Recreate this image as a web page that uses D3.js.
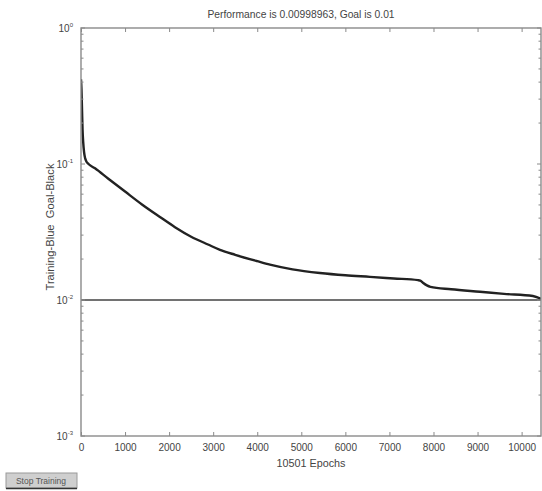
<!DOCTYPE html>
<html>
<head>
<meta charset="utf-8">
<script src="https://cdn.jsdelivr.net/npm/d3@7"></script>
<style>
  html, body { margin: 0; padding: 0; background: #fff; }
  svg { display: block; font-family: "Liberation Sans", Arial, sans-serif; }
  .pre { white-space: pre; }
</style>
</head>
<body>
<svg id="chart" width="542" height="491"></svg>
<script>
// ---- data ----
const titleText = "Performance is 0.00998963, Goal is 0.01";
const xLabelText = "10501 Epochs";
const yLabelText = "Training-Blue  Goal-Black";
const xTicks = [0, 1000, 2000, 3000, 4000, 5000, 6000, 7000, 8000, 9000, 10000];
const yTickExps = [0, -1, -2, -3];
const goal = 0.01;
const epochs = [0, 10, 22, 35, 50, 70, 95, 125, 170, 318, 613, 1000, 1384, 1800, 2133, 2500, 2882, 3154, 3500, 4000, 4289, 4800, 5423, 6000, 6558, 7100, 7647, 7700, 7760, 7850, 7930, 8400, 9054, 9600, 10256, 10501];
const perf   = [0.42, 0.36, 0.26, 0.18, 0.145, 0.122, 0.110, 0.104, 0.100, 0.0929, 0.0783, 0.0627, 0.0504, 0.0406, 0.0343, 0.0292, 0.0256, 0.0234, 0.0215, 0.0193, 0.0182, 0.0168, 0.0158, 0.0152, 0.0148, 0.0144, 0.0140, 0.0139, 0.0134, 0.0128, 0.0125, 0.0120, 0.0115, 0.0111, 0.0107, 0.00999];

// ---- layout ----
const svg = d3.select("#chart");
const L = 81, R = 541, T = 28, B = 436;
const axisColor = "#8a8a8a";
const textColor = "#444";

const x = d3.scaleLinear().domain([0, 10440]).range([L, R]);
const y = d3.scaleLog().domain([1e-3, 1]).range([B, T]);

svg.append("defs").append("clipPath").attr("id", "clip")
  .append("rect").attr("x", L).attr("y", T).attr("width", R - L).attr("height", B - T);

// title
svg.append("text").attr("x", 301).attr("y", 18).attr("text-anchor", "middle")
  .attr("font-size", 10.3).attr("fill", textColor).text(titleText);

// goal line
svg.append("line").attr("clip-path", "url(#clip)")
  .attr("x1", L).attr("x2", R).attr("y1", y(goal)).attr("y2", y(goal))
  .attr("stroke", "#727272").attr("stroke-width", 2.2);

// performance curve
const line = d3.line().x((d, i) => x(epochs[i])).y(d => y(d)).curve(d3.curveMonotoneX);
svg.append("path").datum(perf).attr("clip-path", "url(#clip)")
  .attr("d", line).attr("fill", "none").attr("stroke", "#222").attr("stroke-width", 2.4)
  .attr("stroke-linejoin", "round");

// box
svg.append("rect").attr("x", L).attr("y", T).attr("width", R - L).attr("height", B - T)
  .attr("fill", "none").attr("stroke", axisColor).attr("stroke-width", 1.4);

// x axes (ticks inward)
const xb = svg.append("g").attr("transform", `translate(0,${B})`)
  .call(d3.axisBottom(x).tickValues(xTicks).tickSize(-4).tickPadding(8).tickFormat(d3.format("d")));
const xt = svg.append("g").attr("transform", `translate(0,${T})`)
  .call(d3.axisTop(x).tickValues(xTicks).tickSize(-4).tickFormat(""));
[xb, xt].forEach(g => {
  g.select(".domain").remove();
  g.selectAll("line").attr("stroke", axisColor).attr("stroke-width", 1);
  g.selectAll("text").attr("font-size", 10).attr("fill", textColor)
    .attr("font-family", "Liberation Sans, Arial, sans-serif");
});

// y axes: major + minor ticks
const minor = [];
for (let e = -3; e < 0; e++) for (let m = 2; m <= 9; m++) minor.push(m * Math.pow(10, e));
const majors = yTickExps.map(e => Math.pow(10, e));
[[L, 1], [R, -1]].forEach(([xx, dir]) => {
  const g = svg.append("g");
  g.selectAll("line.maj").data(majors).join("line")
    .attr("x1", xx).attr("x2", xx + dir * 4).attr("y1", d => y(d)).attr("y2", d => y(d))
    .attr("stroke", axisColor);
  g.selectAll("line.min").data(minor).join("line")
    .attr("x1", xx).attr("x2", xx + dir * 2.5).attr("y1", d => y(d)).attr("y2", d => y(d))
    .attr("stroke", axisColor);
});

// y tick labels 10^e
const yl = svg.append("g");
yTickExps.forEach(e => {
  const t = yl.append("text").attr("x", 73).attr("y", y(Math.pow(10, e)) + 4)
    .attr("text-anchor", "end").attr("font-size", 10).attr("fill", textColor);
  t.append("tspan").text("10");
  t.append("tspan").attr("dy", -5).attr("font-size", 6).text(String(e));
});

// axis labels
svg.append("text").attr("x", 311).attr("y", 467).attr("text-anchor", "middle")
  .attr("font-size", 10.8).attr("fill", textColor).text(xLabelText);
svg.append("text").attr("class", "pre").attr("transform", "translate(54,227) rotate(-90)").attr("text-anchor", "middle")
  .attr("font-size", 11.2).attr("fill", textColor).text(yLabelText);

// "Stop Training" button
const btn = svg.append("g");
btn.append("rect").attr("x", 6).attr("y", 473).attr("width", 71).attr("height", 15)
  .attr("fill", "#cfcfcf").attr("stroke", "#9a9a9a").attr("stroke-width", 1);
btn.append("line").attr("x1", 6).attr("x2", 77).attr("y1", 488.5).attr("y2", 488.5)
  .attr("stroke", "#333").attr("stroke-width", 1.5);
btn.append("text").attr("x", 41).attr("y", 484).attr("text-anchor", "middle")
  .attr("font-size", 8.5).attr("fill", "#555").text("Stop Training");
</script>
</body>
</html>
